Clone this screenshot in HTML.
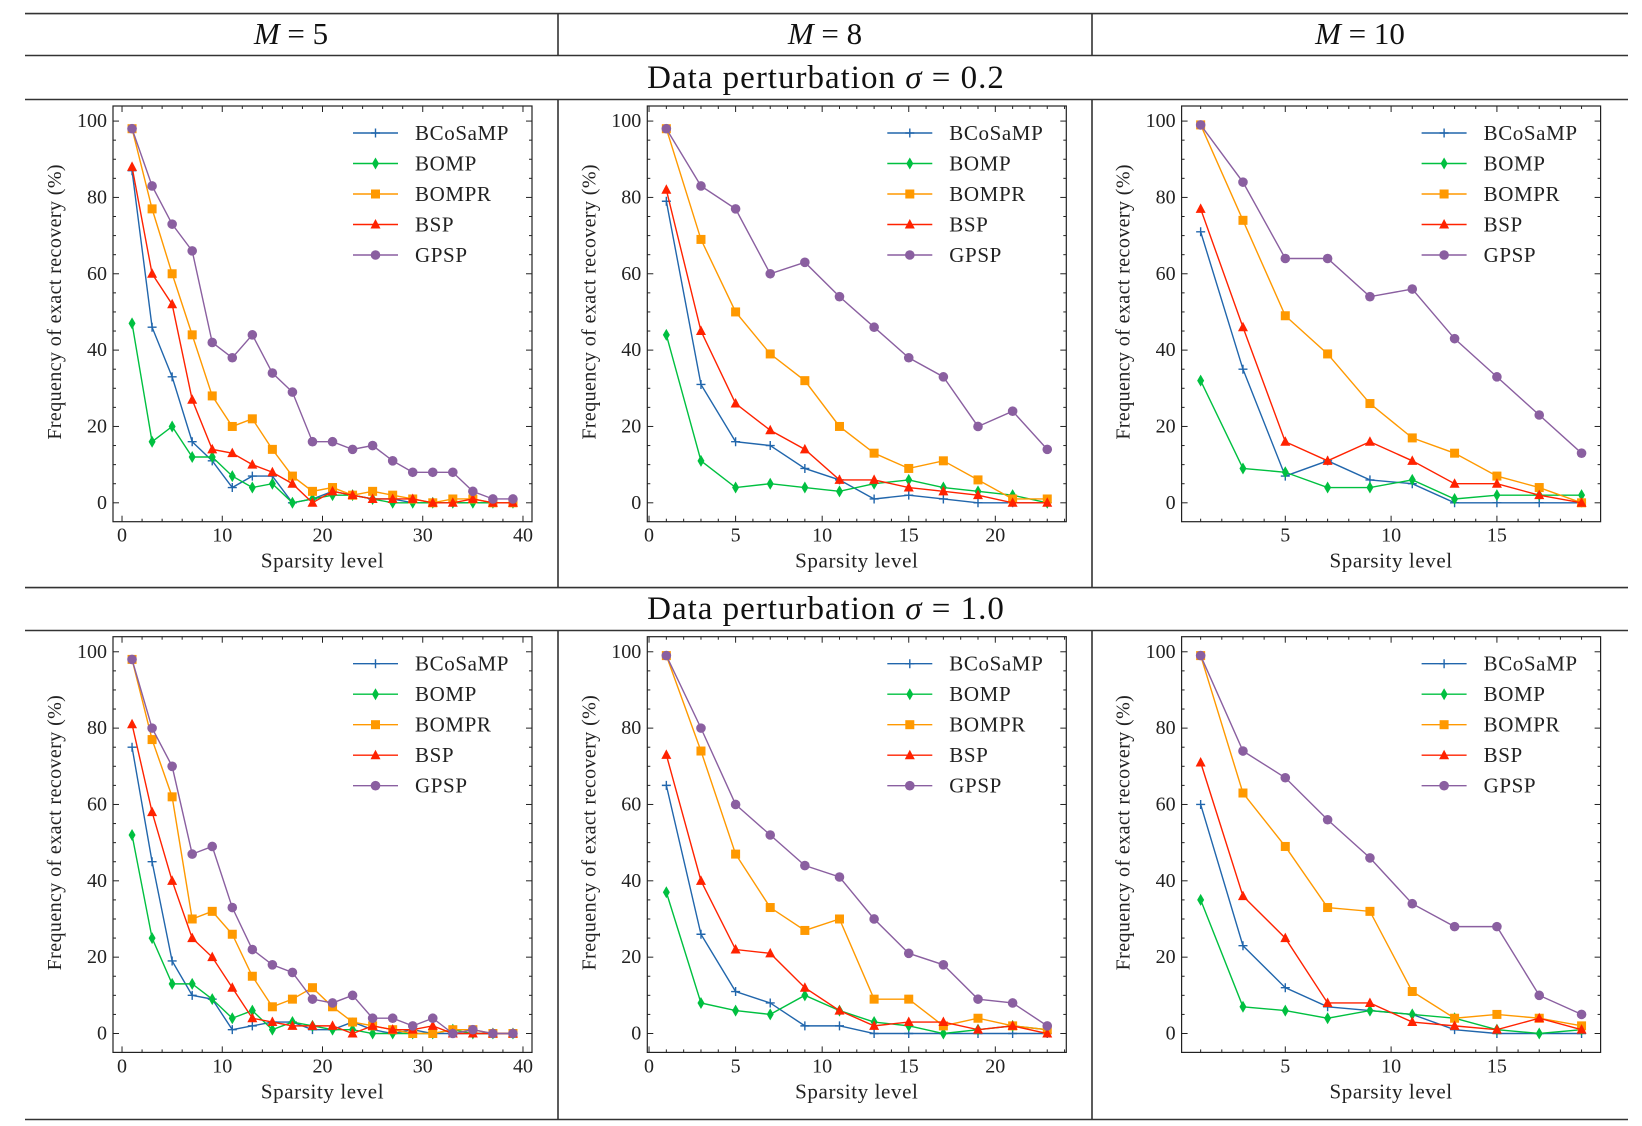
<!DOCTYPE html>
<html><head><meta charset="utf-8">
<style>
html,body{margin:0;padding:0;background:#fff;}
svg{display:block;font-family:"Liberation Serif","DejaVu Serif",serif;}
</style></head>
<body>
<svg id="fig" width="1642" height="1126" viewBox="0 0 1642 1126" xmlns="http://www.w3.org/2000/svg">
<g stroke="#333" stroke-width="1.6">
<line x1="25" y1="13.6" x2="1628" y2="13.6"/>
<line x1="25" y1="55.5" x2="1628" y2="55.5"/>
<line x1="25" y1="99.5" x2="1628" y2="99.5"/>
<line x1="25" y1="587.6" x2="1628" y2="587.6"/>
<line x1="25" y1="630.5" x2="1628" y2="630.5"/>
<line x1="25" y1="1119.5" x2="1628" y2="1119.5"/>
<line x1="558" y1="13.6" x2="558" y2="55.5"/>
<line x1="1092" y1="13.6" x2="1092" y2="55.5"/>
<line x1="558" y1="99.5" x2="558" y2="587.6"/>
<line x1="1092" y1="99.5" x2="1092" y2="587.6"/>
<line x1="558" y1="630.5" x2="558" y2="1119.5"/>
<line x1="1092" y1="630.5" x2="1092" y2="1119.5"/>
</g>
<g font-size="31" text-anchor="middle" fill="#111" xml:space="preserve">
<text x="291" y="44"><tspan font-style="italic">M</tspan>  =  5</text>
<text x="825" y="44"><tspan font-style="italic">M</tspan>  =  8</text>
<text x="1360" y="44"><tspan font-style="italic">M</tspan>  =  10</text>
</g>
<g font-size="33" text-anchor="middle" fill="#111" letter-spacing="1" xml:space="preserve">
<text x="826" y="88">Data perturbation <tspan font-style="italic">σ</tspan> = 0.2</text>
<text x="826" y="619">Data perturbation <tspan font-style="italic">σ</tspan> = 1.0</text>
</g>
<g id="panels"></g>
</svg>
<script>
const seriesNames = ["BCoSaMP","BOMP","BOMPR","BSP","GPSP"];
const seriesColors = ["#2166ac","#00c040","#ff9900","#ff2200","#8a5fa0"];
const xM5 = [1,3,5,7,9,11,13,15,17,19,21,23,25,27,29,31,33,35,37,39];
const xM8 = [1,3,5,7,9,11,13,15,17,19,21,23];
const xM10 = [1,3,5,7,9,11,13,15,17,19];
const xTicksM5 = [0,10,20,30,40];
const xTicksM8 = [0,5,10,15,20];
const xTicksM10 = [5,10,15];
const yTicks = [0,20,40,60,80,100];

// sigma = 0.2
const a_bcosamp = [87,46,33,16,11,4,7,7,0,1,3,2,1,1,0,0,0,0,0,0];
const a_bomp    = [47,16,20,12,12,7,4,5,0,1,2,2,1,0,0,0,0,0,0,0];
const a_bompr   = [98,77,60,44,28,20,22,14,7,3,4,2,3,2,1,0,1,1,0,0];
const a_bsp     = [88,60,52,27,14,13,10,8,5,0,3,2,1,1,1,0,0,1,0,0];
const a_gpsp    = [98,83,73,66,42,38,44,34,29,16,16,14,15,11,8,8,8,3,1,1];

const b_bcosamp = [79,31,16,15,9,6,1,2,1,0,0,0];
const b_bomp    = [44,11,4,5,4,3,5,6,4,3,2,0];
const b_bompr   = [98,69,50,39,32,20,13,9,11,6,1,1];
const b_bsp     = [82,45,26,19,14,6,6,4,3,2,0,0];
const b_gpsp    = [98,83,77,60,63,54,46,38,33,20,24,14];

const c_bcosamp = [71,35,7,11,6,5,0,0,0,0];
const c_bomp    = [32,9,8,4,4,6,1,2,2,2];
const c_bompr   = [99,74,49,39,26,17,13,7,4,0];
const c_bsp     = [77,46,16,11,16,11,5,5,2,0];
const c_gpsp    = [99,84,64,64,54,56,43,33,23,13];

// sigma = 1.0
const d_bcosamp = [75,45,19,10,9,1,2,3,3,1,1,3,1,0,1,0,0,0,0,0];
const d_bomp    = [52,25,13,13,9,4,6,1,3,2,1,1,0,0,0,0,1,0,0,0];
const d_bompr   = [98,77,62,30,32,26,15,7,9,12,7,3,2,1,0,0,1,1,0,0];
const d_bsp     = [81,58,40,25,20,12,4,3,2,2,2,0,2,1,1,2,0,0,0,0];
const d_gpsp    = [98,80,70,47,49,33,22,18,16,9,8,10,4,4,2,4,0,1,0,0];

const e_bcosamp = [65,26,11,8,2,2,0,0,0,0,0,0];
const e_bomp    = [37,8,6,5,10,6,3,2,0,1,2,1];
const e_bompr   = [99,74,47,33,27,30,9,9,2,4,2,1];
const e_bsp     = [73,40,22,21,12,6,2,3,3,1,2,0];
const e_gpsp    = [99,80,60,52,44,41,30,21,18,9,8,2];

const f_bcosamp = [60,23,12,7,6,5,1,0,0,0];
const f_bomp    = [35,7,6,4,6,5,4,1,0,1];
const f_bompr   = [99,63,49,33,32,11,4,5,4,2];
const f_bsp     = [71,36,25,8,8,3,2,1,4,1];
const f_gpsp    = [99,74,67,56,46,34,28,28,10,5];

const NS="http://www.w3.org/2000/svg";
function mk(tag, attrs, parent){
  const el=document.createElementNS(NS,tag);
  for(const k in attrs) el.setAttribute(k,attrs[k]);
  if(parent) parent.appendChild(el);
  return el;
}
const panels=[
 {id:"m5-s02", col:0,row:0, xs:xM5, xt:xTicksM5, minor:2, series:[a_bcosamp,a_bomp,a_bompr,a_bsp,a_gpsp]},
 {id:"m8-s02", col:1,row:0, xs:xM8, xt:xTicksM8, minor:1, series:[b_bcosamp,b_bomp,b_bompr,b_bsp,b_gpsp]},
 {id:"m10-s02",col:2,row:0, xs:xM10,xt:xTicksM10,minor:1, series:[c_bcosamp,c_bomp,c_bompr,c_bsp,c_gpsp]},
 {id:"m5-s10", col:0,row:1, xs:xM5, xt:xTicksM5, minor:2, series:[d_bcosamp,d_bomp,d_bompr,d_bsp,d_gpsp]},
 {id:"m8-s10", col:1,row:1, xs:xM8, xt:xTicksM8, minor:1, series:[e_bcosamp,e_bomp,e_bompr,e_bsp,e_gpsp]},
 {id:"m10-s10",col:2,row:1, xs:xM10,xt:xTicksM10,minor:1, series:[f_bcosamp,f_bomp,f_bompr,f_bsp,f_gpsp]}
];
const root=document.getElementById("panels");
const W=419, H=415.7;
function marker(g,k,x,y,c){
  let m;
  if(k===0){ m=mk("path",{d:`M${x-4.5},${y}H${x+4.5}M${x},${y-4.5}V${y+4.5}`,stroke:c,"stroke-width":1.4,fill:"none"},g); }
  else if(k===1){ m=mk("path",{d:`M${x},${y-6}L${x+3.5},${y}L${x},${y+6}L${x-3.5},${y}Z`,fill:c},g); }
  else if(k===2){ m=mk("rect",{x:x-4.5,y:y-4.5,width:9,height:9,fill:c},g); }
  else if(k===3){ m=mk("path",{d:`M${x},${y-5.5}L${x+5},${y+4}L${x-5},${y+4}Z`,fill:c},g); }
  else { m=mk("circle",{cx:x,cy:y,r:4.8,fill:c},g); }
  return m;
}
panels.forEach(p=>{
  const L=113+p.col*534.3, T=106+p.row*530.7;
  const xmin=p.xs[0], xmax=p.xs[p.xs.length-1], pad=(xmax-xmin)*0.05;
  const x0=xmin-pad, x1=xmax+pad, y0=-4.95, y1=103.95;
  const X=v=>L+(v-x0)/(x1-x0)*W;
  const Y=v=>T+H-(v-y0)/(y1-y0)*H;
  const g=mk("g",{},root);
  
  
  const ax=mk("g",{stroke:"#222","stroke-width":1},g);
  
  
  mk("rect",{x:L,y:T,width:W,height:H,fill:"none","stroke-width":1.2},ax);
  for(let v=Math.ceil(x0/p.minor)*p.minor; v<=x1; v+=p.minor){
    const major=p.xt.includes(v); const len=major?6:3;
    mk("line",{x1:X(v),y1:T+H,x2:X(v),y2:T+H-len},ax);
    mk("line",{x1:X(v),y1:T,x2:X(v),y2:T+len},ax);
  }
  for(let v=0;v<=100;v+=5){
    const major=v%20===0; const len=major?6:3;
    mk("line",{x1:L,y1:Y(v),x2:L+len,y2:Y(v)},ax);
    mk("line",{x1:L+W,y1:Y(v),x2:L+W-len,y2:Y(v)},ax);
  }
  p.xt.forEach(v=>{
    const t=mk("text",{x:X(v),y:T+H+20,"font-size":20,"text-anchor":"middle",fill:"#222"},g);
    t.textContent=v;
    
    
  });
  yTicks.forEach(v=>{
    const t=mk("text",{x:L-6,y:Y(v)+6,"font-size":20,"text-anchor":"end",fill:"#222"},g);
    t.textContent=v;
    
    
  });
  const xl=mk("text",{x:L+W/2,y:T+H+46,"font-size":21,"text-anchor":"middle",fill:"#222","letter-spacing":0.6},g);
  xl.textContent="Sparsity level";
  
  
  const cx=L-52, cy=T+H/2-12;
  const yl=mk("text",{x:cx,y:cy,"font-size":20,"text-anchor":"middle",fill:"#222","letter-spacing":0.4,transform:`rotate(-90 ${cx} ${cy})`},g);
  yl.textContent="Frequency of exact recovery (%)";
  
  
  p.series.forEach((vals,k)=>{
    const sg=mk("g",{},g);
    
    
    const pts=vals.map((v,i)=>X(p.xs[i])+","+Y(v)).join(" ");
    mk("polyline",{points:pts,fill:"none",stroke:seriesColors[k],"stroke-width":1.4},sg);
    vals.forEach((v,i)=>{
      const m=marker(sg,k,X(p.xs[i]),Y(v),seriesColors[k]);
      
      
    });
  });
  const lg=mk("g",{},g);
  
  
  seriesNames.forEach((n,k)=>{
    const ly=T+27+k*30.5;
    const e=mk("g",{},lg);
    
    
    mk("line",{x1:L+240,y1:ly,x2:L+285,y2:ly,stroke:seriesColors[k],"stroke-width":1.4},e);
    marker(e,k,L+262.5,ly,seriesColors[k]);
    const t=mk("text",{x:L+302,y:ly+7,"font-size":21,fill:"#222","letter-spacing":0.6},e);
    t.textContent=n;
  });
});
</script>
</body></html>
